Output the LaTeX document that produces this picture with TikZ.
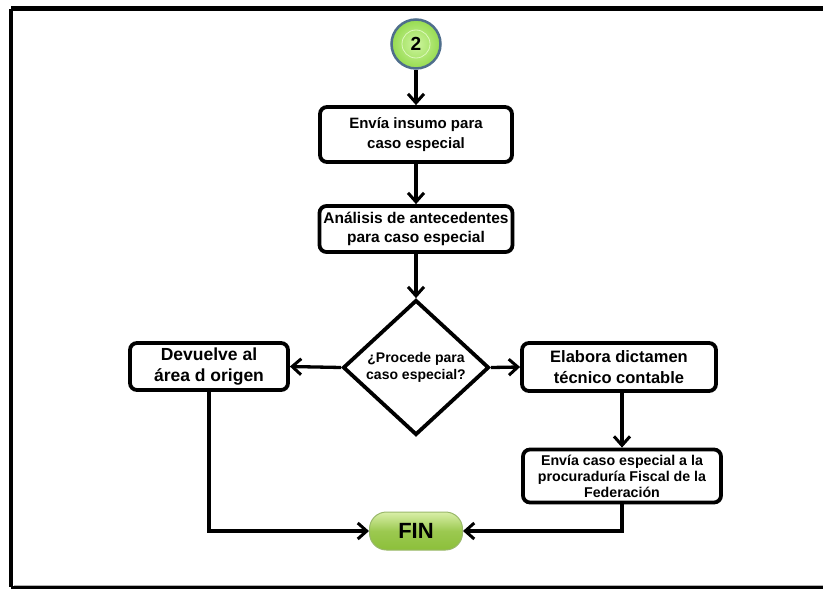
\documentclass[tikz,border=0pt]{standalone}
\usepackage{fontspec}
\setmainfont{Liberation Sans}
\usetikzlibrary{arrows.meta,shapes.geometric,shadows,calc}
\definecolor{ringblue}{HTML}{4F6E8C}
\definecolor{startgreen}{HTML}{96DB50}
\definecolor{startlight}{HTML}{CDF59E}
\definecolor{fingreen}{HTML}{8CBF3A}
\definecolor{finlight}{HTML}{D9EFA8}
\definecolor{findark}{HTML}{6E9A2A}
\tikzset{
  procbox/.style={draw=black, line width=3.8pt, rounded corners=7pt, fill=white,
    align=center, font=\bfseries, inner sep=2pt,
    drop shadow={shadow xshift=1.5pt, shadow yshift=-1.5pt, opacity=0.35, fill=gray}},
  flow/.style={line width=3.3pt, -{Straight Barb[length=9pt,width=16pt,line width=3pt]}},
}
\begin{document}
\begin{tikzpicture}[x=1pt,y=-1pt]
\useasboundingbox (0,0) rectangle (823,589);
% outer frame
\draw[line width=4.5pt] (11,8.5) -- (835,8.5);
\draw[line width=4.5pt] (11,8.5) -- (11,587);
\draw[line width=2.5pt] (11,587.5) -- (835,587.5);
\draw[gray!60, line width=0.8pt] (14,585.5) -- (835,585.5);

% start connector
\node[circle, minimum size=49pt, draw=ringblue, line width=2.5pt,
      inner color=startlight, outer color=startgreen] (start) at (416,44) {};
\draw[startlight!70!white, line width=0.8pt] (start.center) circle (14);
\node[font=\bfseries\fontsize{19}{19}\selectfont] at (start.center) {2};

% process boxes
\node[procbox, minimum width=192pt, minimum height=55pt,
      font=\bfseries\fontsize{15}{20}\selectfont] (envia) at (416,134.5)
      {Envía insumo para\\caso especial};
\node[procbox, minimum width=193pt, minimum height=46pt,
      font=\bfseries\fontsize{15.5}{19}\selectfont] (analisis) at (416,229)
      {Análisis de antecedentes\\para caso especial};
\node[diamond, draw=black, line width=3.8pt, fill=white, minimum width=146pt,
      minimum height=135pt, inner sep=0pt, align=center,
      font=\bfseries\fontsize{14}{17}\selectfont] (dec) at (416,367.5)
      {¿Procede para\\caso especial?};
\node[procbox, minimum width=158pt, minimum height=47pt,
      font=\bfseries\fontsize{17.5}{21}\selectfont] (devuelve) at (209,366.5)
      {Devuelve al\\área d origen};
\node[procbox, minimum width=194pt, minimum height=48pt,
      font=\bfseries\fontsize{16.5}{21}\selectfont] (elabora) at (619,367)
      {Elabora dictamen\\técnico contable};
\node[procbox, minimum width=198pt, minimum height=53pt,
      font=\bfseries\fontsize{14.2}{16}\selectfont] (procu) at (622,476)
      {Envía caso especial a la\\procuraduría Fiscal de la\\Federación};

% end terminal
\node[draw=findark!70, line width=1pt, rounded corners=17pt,
      minimum width=93pt, minimum height=38pt,
      top color=finlight, bottom color=fingreen, middle color=fingreen!80!finlight,
      font=\bfseries\fontsize{22}{22}\selectfont] (fin) at (416,531) {FIN};

% connectors
\draw[flow] (start.south) -- (envia.north);
\draw[flow] (envia.south) -- (analisis.north);
\draw[flow] (analisis.south) -- (dec.north);
\draw[flow] (dec.west) -- (devuelve.east);
\draw[flow] (dec.east) -- (elabora.west);
\draw[flow] (elabora.south -| procu.north) -- (procu.north);
\draw[flow] (devuelve.south) |- (fin.west);
\draw[flow] (procu.south) |- (fin.east);
\end{tikzpicture}
\end{document}
